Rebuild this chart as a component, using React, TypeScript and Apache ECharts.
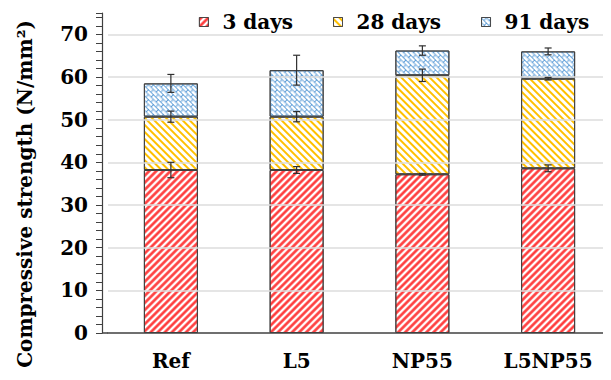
import React, { useEffect, useRef } from "react";
import * as echarts from "echarts";

const categories = ["Ref", "L5", "NP55", "L5NP55"];
const seriesNames = ["3 days", "28 days", "91 days"];
// compressive strength (cumulative, N/mm²)
const strength3 = [38.2, 38.2, 37.2, 38.6];
const strength28 = [50.7, 50.7, 60.4, 59.6];
const strength91 = [58.5, 61.6, 66.2, 66.0];
// error bar half-lengths
const err3 = [1.8, 0.8, 0.2, 0.8];
const err28 = [1.3, 1.2, 1.45, 0.3];
const err91 = [2.1, 3.5, 1.1, 0.8];
const yTicks = [0, 10, 20, 30, 40, 50, 60, 70];

const FONT = "DejaVu Serif";

const BRICK =
  "path://M0,0H8V0.9H0Z M0,0H0.9V4.9H0Z M0,4H8V4.9H0Z M4,4H4.9V8H4Z";

export default function App() {
  const ref = useRef<HTMLDivElement>(null);
  useEffect(() => {
    if (!ref.current) return;
    const chart = echarts.init(ref.current, null, { renderer: "svg" });
    const gain28 = strength28.map((v, i) => +(v - strength3[i]).toFixed(2));
    const gain91 = strength91.map((v, i) => +(v - strength28[i]).toFixed(2));

    const decals: any[] = [
      { symbol: "rect", color: "#ff0000", dashArrayX: [1, 0], dashArrayY: [2.2, 2], rotation: -Math.PI / 4 },
      { symbol: "rect", color: "#ffc000", dashArrayX: [1, 0], dashArrayY: [2, 2.2], rotation: Math.PI / 4 },
      { symbol: BRICK, symbolKeepAspect: false, color: "#3d8ad0", dashArrayX: [7, 0], dashArrayY: [7, 0], rotation: Math.PI / 4 },
    ];
    const stackData = [strength3, gain28, gain91];
    const tops = [strength3, strength28, strength91];
    const errs = [err3, err28, err91];

    const barSeries = seriesNames.map((name, k) => ({
      name,
      type: "bar",
      stack: "s",
      barWidth: 54,
      data: stackData[k],
      itemStyle: { color: "#ffffff", borderColor: "#404040", borderWidth: 1, decal: decals[k] },
      z: 2,
    }));

    const errSeries = seriesNames.map((name, k) => ({
      type: "custom",
      name: name + " err",
      data: tops[k].map((v, i) => [i, v, errs[k][i]]),
      encode: { x: 0, y: 1 },
      z: 10,
      renderItem: (params: any, api: any) => {
        const i = api.value(0);
        const v = api.value(1);
        const e = api.value(2);
        const hi = api.coord([i, v + e]);
        const lo = api.coord([i, v - e]);
        const w = 3.5;
        const st = { stroke: "#303030", lineWidth: 1.2 };
        return {
          type: "group",
          children: [
            { type: "line", shape: { x1: hi[0], y1: hi[1], x2: lo[0], y2: lo[1] }, style: st },
            { type: "line", shape: { x1: hi[0] - w, y1: hi[1], x2: hi[0] + w, y2: hi[1] }, style: st },
            { type: "line", shape: { x1: lo[0] - w, y1: lo[1], x2: lo[0] + w, y2: lo[1] }, style: st },
          ],
        };
      },
    }));

    chart.setOption({
      animation: false,
      aria: { enabled: true, decal: { show: true } },
      legend: {
        data: seriesNames,
        icon: "rect",
        left: 194,
        top: 7,
        itemWidth: 9,
        itemHeight: 9,
        itemGap: 40,
        itemStyle: { borderColor: "#404040", borderWidth: 0.8 },
        textStyle: { fontFamily: FONT, fontSize: 20, fontWeight: "bold", color: "#000", padding: [0, 0, 0, 9] },
      },
      grid: { left: 108, right: -14, top: 13, bottom: 47 },
      xAxis: {
        type: "category",
        data: categories,
        axisLine: { lineStyle: { color: "#404040", width: 1.5 } },
        axisTick: { show: false },
        axisLabel: { fontFamily: FONT, fontSize: 20, fontWeight: "bold", color: "#000", margin: 18 },
      },
      yAxis: {
        type: "value",
        min: 0,
        max: 75,
        interval: 10,
        offset: 6,
        axisLine: { show: true, lineStyle: { color: "#404040", width: 1.2 } },
        axisTick: { show: true, length: 6, lineStyle: { color: "#404040" } },
        minorTick: { show: true, splitNumber: 5, length: 6, lineStyle: { color: "#404040" } },
        splitLine: { show: false },
        axisLabel: {
          fontFamily: FONT,
          fontSize: 20,
          fontWeight: "bold",
          color: "#000",
          margin: 14,
          formatter: (v: number) => (yTicks.includes(v) ? String(v) : ""),
        },
      },
      graphic: [
        {
          type: "text",
          x: 25,
          y: 194,
          rotation: Math.PI / 2,
          style: {
            text: "Compressive strength (N/mm²)",
            font: `bold 20px "${FONT}"`,
            fill: "#000",
            textAlign: "center",
            textVerticalAlign: "middle",
          },
        },
        {
          type: "line",
          shape: { x1: 102, y1: 333, x2: 108, y2: 333 },
          style: { stroke: "#404040", lineWidth: 1.5 },
        },
      ],
      series: [
        {
          type: "line",
          data: [],
          markLine: {
            silent: true,
            symbol: "none",
            label: { show: false },
            lineStyle: { color: "#dddddd", width: 1.5, type: "solid" },
            data: yTicks.filter((t) => t > 0).map((t) => ({ yAxis: t })),
          },
          z: 0,
        },
        ...barSeries,
        ...errSeries,
      ],
    });
    return () => chart.dispose();
  }, []);
  return <div ref={ref} style={{ width: 611, height: 380, margin: -8 }} />;
}
